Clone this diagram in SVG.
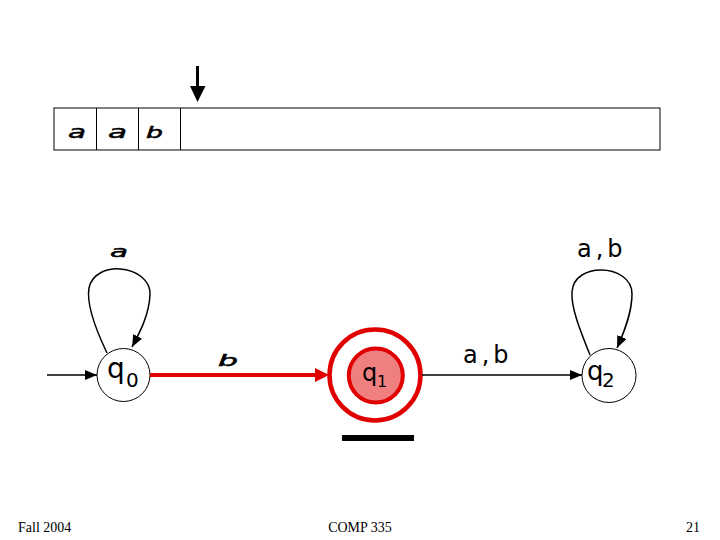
<svg xmlns="http://www.w3.org/2000/svg" width="720" height="540" viewBox="0 0 720 540">
<style>
.sym{font-family:"DejaVu Sans","Liberation Sans",sans-serif;font-style:italic;fill:#000;stroke:#000;stroke-width:0.5}
.lbl{font-family:"DejaVu Sans","Liberation Sans",sans-serif;fill:#000}
.foot{font-family:"Liberation Serif","Times New Roman",serif;font-size:14px;fill:#000}
.edge{fill:none;stroke:#000;stroke-width:1.5}
.red{fill:none;stroke:#e00000;stroke-width:4}
.state{fill:#fff;stroke:#000;stroke-width:1}
</style>
<defs>
<marker id="ah" markerUnits="userSpaceOnUse" markerWidth="12" markerHeight="10" refX="12" refY="5" orient="auto">
<path d="M0,0 L12,5 L0,10 z" fill="#000"/>
</marker>
<marker id="ahr" markerUnits="userSpaceOnUse" markerWidth="14" markerHeight="14" refX="0" refY="7" orient="auto">
<path d="M0,0 L14,7 L0,14 z" fill="#e00000"/>
</marker>
</defs>
<rect width="720" height="540" fill="#fff"/>

<g id="tape">
<rect x="54" y="108" width="606" height="42" fill="#fff" stroke="#000" stroke-width="1"/>
<line x1="96.5" y1="108" x2="96.5" y2="150" stroke="#000" stroke-width="1"/>
<line x1="138.5" y1="108" x2="138.5" y2="150" stroke="#000" stroke-width="1"/>
<line x1="180.5" y1="108" x2="180.5" y2="150" stroke="#000" stroke-width="1"/>
<text class="sym" x="68" y="138" font-size="17" textLength="18" lengthAdjust="spacingAndGlyphs">a</text>
<text class="sym" x="108" y="138" font-size="17" textLength="19" lengthAdjust="spacingAndGlyphs">a</text>
<text class="sym" x="146" y="138" font-size="15" textLength="17" lengthAdjust="spacingAndGlyphs">b</text>
</g>

<g id="head-pointer">
<line x1="197.5" y1="66" x2="197.5" y2="88" stroke="#000" stroke-width="3"/>
<polygon points="190,86 205.5,86 197.5,102" fill="#000"/>
</g>

<g id="q0">
<circle class="state" cx="123.5" cy="375" r="26.5"/>
<text class="lbl" x="107" y="378" font-size="28">q</text>
<text class="lbl" x="126" y="387" font-size="20">0</text>
</g>

<g id="q1">
<circle cx="375" cy="375" r="45.5" fill="#fff" stroke="#e00000" stroke-width="4.5"/>
<circle cx="375.8" cy="375.5" r="27" fill="#f08080" stroke="#e00000" stroke-width="4"/>
<text class="lbl" x="362" y="381" font-size="24">q</text>
<text class="lbl" x="377" y="387" font-size="16">1</text>
<rect x="342" y="435" width="72" height="6" fill="#000"/>
</g>

<g id="q2">
<circle class="state" cx="609" cy="375.5" r="27"/>
<text class="lbl" x="587" y="380" font-size="26">q</text>
<text class="lbl" x="602" y="387" font-size="20">2</text>
</g>

<g id="connectors">
<line class="edge" x1="47" y1="375" x2="97" y2="375" marker-end="url(#ah)"/>
<line class="red" x1="150" y1="375" x2="315" y2="375" marker-end="url(#ahr)"/>
<line class="edge" x1="422" y1="375" x2="582" y2="375" marker-end="url(#ah)"/>
<path class="edge" d="M107,353 C96,330 86,305 89,288 C92,273 108,268 120,269 C136,270 151,280 150,295 C149,315 140,332 132,347" marker-end="url(#ah)"/>
<path class="edge" d="M590,355 C580,330 571,308 572,292 C573,276 588,270 601,270 C616,270 632,278 632,294 C632,312 625,330 617,348" marker-end="url(#ah)"/>
</g>

<g id="edge-labels">
<text class="sym" x="110" y="257" font-size="16" textLength="18" lengthAdjust="spacingAndGlyphs">a</text>
<text class="sym" x="218" y="366" font-size="15" textLength="20" lengthAdjust="spacingAndGlyphs">b</text>
<text class="lbl" x="463" y="363" font-size="24" letter-spacing="4">a,b</text>
<text class="lbl" x="577" y="257" font-size="24" letter-spacing="4">a,b</text>
</g>

<g id="footer">
<text class="foot" x="18" y="532">Fall 2004</text>
<text class="foot" x="360" y="532" text-anchor="middle">COMP 335</text>
<text class="foot" x="700" y="532" text-anchor="end">21</text>
</g>
</svg>
